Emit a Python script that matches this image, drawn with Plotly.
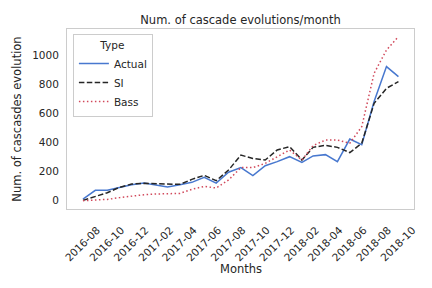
import plotly.graph_objects as go

months = ["2016-08-01", "2016-09-01", "2016-10-01", "2016-11-01", "2016-12-01",
          "2017-01-01", "2017-02-01", "2017-03-01", "2017-04-01", "2017-05-01",
          "2017-06-01", "2017-07-01", "2017-08-01", "2017-09-01", "2017-10-01",
          "2017-11-01", "2017-12-01", "2018-01-01", "2018-02-01", "2018-03-01",
          "2018-04-01", "2018-05-01", "2018-06-01", "2018-07-01", "2018-08-01",
          "2018-09-01", "2018-10-01"]

actual = [11, 71, 71, 91, 110, 121, 105, 94, 110, 126, 160, 121, 195, 227, 172,
          240, 268, 302, 263, 307, 316, 268, 423, 384, 680, 920, 851]
si = [2, 27, 55, 92, 114, 119, 117, 112, 112, 146, 174, 137, 210, 313, 290,
      279, 348, 371, 279, 366, 380, 366, 330, 394, 668, 771, 817]
bass = [0, 5, 9, 21, 32, 41, 46, 50, 50, 78, 98, 87, 142, 227, 227,
        256, 302, 348, 279, 378, 416, 416, 394, 508, 874, 1034, 1126]

tick_vals = ["2016-08-01", "2016-10-01", "2016-12-01", "2017-02-01", "2017-04-01",
             "2017-06-01", "2017-08-01", "2017-10-01", "2017-12-01", "2018-02-01",
             "2018-04-01", "2018-06-01", "2018-08-01", "2018-10-01"]
tick_text = [t[:7] for t in tick_vals]
y_ticks = [0, 200, 400, 600, 800, 1000]

text_color = "#262626"
font = "DejaVu Sans"

fig = go.Figure()
fig.add_trace(go.Scatter(x=months, y=actual, mode="lines", name="Actual",
                         line=dict(color="#4878cf", width=1.5)))
fig.add_trace(go.Scatter(x=months, y=si, mode="lines", name="SI",
                         line=dict(color="#262626", width=1.5, dash="5.5px,2.4px")))
fig.add_trace(go.Scatter(x=months, y=bass, mode="lines", name="Bass",
                         line=dict(color="#d1495b", width=1.5, dash="1.5px,2.5px")))

fig.update_layout(
    width=432, height=288,
    margin=dict(l=67, r=18, t=29, b=79),
    paper_bgcolor="white", plot_bgcolor="white",
    font=dict(family=font, size=10, color=text_color),
    title=dict(text="Num. of cascade evolutions/month", x=0.5, xref="paper",
               xanchor="center", y=1, yref="paper", yanchor="bottom",
               pad=dict(b=5), font=dict(size=11.5, color=text_color)),
    showlegend=True,
    legend=dict(x=0.017, y=0.97, xanchor="left", yanchor="top",
                title=dict(text="Type", side="top center",
                           font=dict(size=10.5, color=text_color)),
                bgcolor="rgba(255,255,255,0.8)", bordercolor="#cccccc", borderwidth=1,
                font=dict(size=10.5, color=text_color), tracegroupgap=0,
                itemwidth=30),
    annotations=[dict(text="Months", xref="paper", yref="paper", x=0.5, y=-0.335,
                      xanchor="center", yanchor="middle", showarrow=False,
                      font=dict(size=11.5, color=text_color))],
)
fig.update_xaxes(
    type="date", range=["2016-06-22", "2018-11-09"], automargin=False,
    tickvals=tick_vals, ticktext=tick_text, tickangle=-45,
    showgrid=False, zeroline=False, showline=True, linecolor="#cccccc",
    linewidth=1, mirror=True, ticks="", tickfont=dict(size=10.5),
    ticklabelshift=14, ticklabelstandoff=10,
)
fig.update_yaxes(
    range=[-57, 1178], tickvals=y_ticks, automargin=False,
    showgrid=False, zeroline=False, showline=True, linecolor="#cccccc",
    linewidth=1, mirror=True, ticks="", ticklabelstandoff=5, tickfont=dict(size=10.5),
    title=dict(text="Num. of cascasdes evolution", font=dict(size=11.5, color=text_color),
               standoff=8),
)

fig.write_html("out.html", config={"displayModeBar": False},
               post_script="document.body.style.margin='0';")
